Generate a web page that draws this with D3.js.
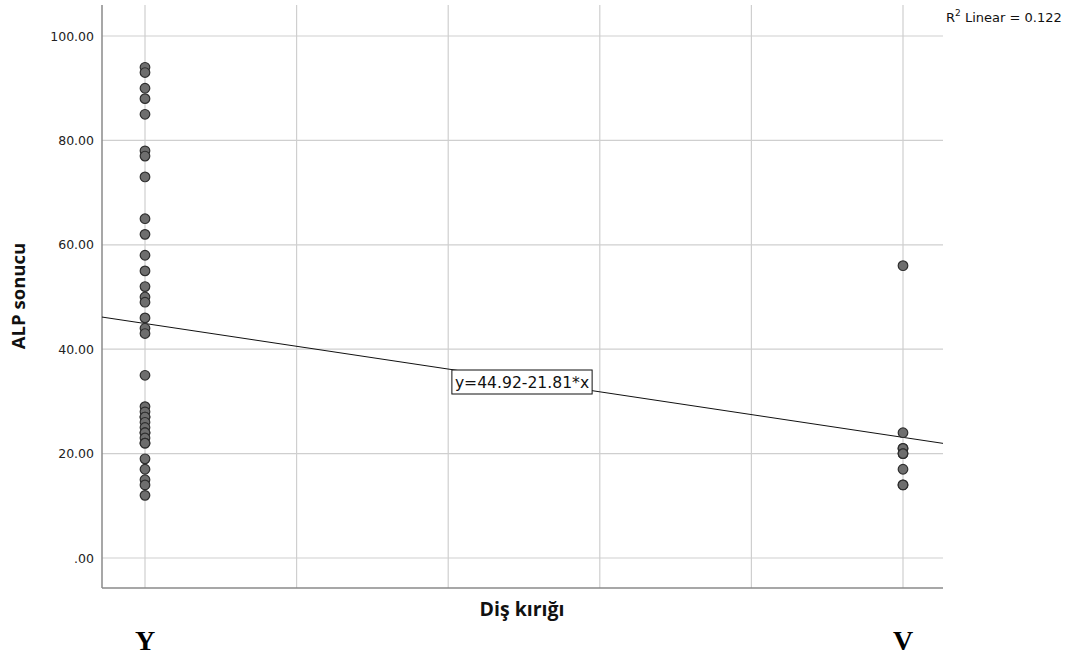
<!DOCTYPE html>
<html>
<head>
<meta charset="utf-8">
<script src="https://cdn.jsdelivr.net/npm/d3@7"></script>
<style>
  html, body { margin: 0; padding: 0; background: #fff; }
  svg { display: block; }
</style>
</head>
<body>
<svg id="chart" width="1074" height="657"></svg>
<script>
// ALP sonucu by group (Diş kırığı coded 0 = Y, 1 = V)
const groupY = [94, 93, 90, 88, 85, 78, 77, 73, 65, 62, 58, 55, 52, 50, 49, 46, 44, 43, 35,
                29, 28, 27, 27, 26, 25, 24, 24, 23, 22, 22, 19, 17, 15, 14, 12];
const groupV = [56, 24, 21, 21, 20, 20, 17, 14, 14];
const yTicks = [0, 20, 40, 60, 80, 100];
const xGrid = [0, 0.2, 0.4, 0.6, 0.8, 1];
const intercept = 44.92;
const slope = -21.81;
const r2 = 0.122;
const groupLabels = ["Y", "V"];

const svg = d3.select("#chart");
const plotLeft = 102, plotRight = 943, plotTop = 5, plotBottom = 588;
const uiFont = "DejaVu Sans, Verdana, sans-serif";

const x = d3.scaleLinear().domain([0, 1]).range([145, 903]);
const y = d3.scaleLinear().domain([0, 100]).range([558, 36]);

const xMin = x.invert(plotLeft), xMax = x.invert(plotRight);

// grid
const grid = svg.append("g");
grid.selectAll("line.h").data(yTicks).join("line")
  .attr("x1", plotLeft).attr("x2", plotRight)
  .attr("y1", d => y(d)).attr("y2", d => y(d))
  .attr("stroke", "#cfcfcf").attr("stroke-width", 1.2);
grid.selectAll("line.v").data(xGrid).join("line")
  .attr("x1", d => x(d)).attr("x2", d => x(d))
  .attr("y1", plotTop).attr("y2", plotBottom)
  .attr("stroke", "#cfcfcf").attr("stroke-width", 1.2);

// y axis
const yAxis = d3.axisLeft(y).tickValues(yTicks).tickSize(0).tickPadding(8)
  .tickFormat(d => d === 0 ? ".00" : d3.format(".2f")(d));
const gy = svg.append("g").attr("transform", `translate(${plotLeft},0)`).call(yAxis);
gy.select(".domain").remove();
gy.selectAll("text").attr("font-family", uiFont)
  .attr("font-size", 12.5).attr("fill", "#222");

// axis lines
svg.append("line").attr("x1", plotLeft).attr("x2", plotLeft).attr("y1", plotTop).attr("y2", plotBottom)
  .attr("stroke", "#8a8a8a").attr("stroke-width", 1.5);
svg.append("line").attr("x1", plotLeft).attr("x2", plotRight).attr("y1", plotBottom).attr("y2", plotBottom)
  .attr("stroke", "#8a8a8a").attr("stroke-width", 1.5);

// fit line
svg.append("line")
  .attr("x1", x(xMin)).attr("y1", y(intercept + slope * xMin))
  .attr("x2", x(xMax)).attr("y2", y(intercept + slope * xMax))
  .attr("stroke", "#111").attr("stroke-width", 1);

// points
const pts = groupY.map(v => ({ g: 0, v })).concat(groupV.map(v => ({ g: 1, v })));
svg.append("g").selectAll("circle").data(pts).join("circle")
  .attr("cx", d => x(d.g)).attr("cy", d => y(d.v)).attr("r", 4.8)
  .attr("fill", "#6e6e6e").attr("stroke", "#2e2e2e").attr("stroke-width", 1.2);

// equation label
const eqX = 522, eqY = 382;
const eq = svg.append("g");
const eqText = eq.append("text").attr("x", eqX).attr("y", eqY + 5.5)
  .attr("text-anchor", "middle")
  .attr("font-family", uiFont).attr("font-size", 15.6)
  .attr("fill", "#111")
  .text(`y=${intercept.toFixed(2)}-${Math.abs(slope).toFixed(2)}*x`);
const bb = eqText.node().getBBox();
eq.insert("rect", "text")
  .attr("x", bb.x - 3).attr("y", eqY - 12).attr("width", bb.width + 6).attr("height", 24)
  .attr("fill", "#fff").attr("stroke", "#111").attr("stroke-width", 1);

// R² label
const rt = svg.append("text").attr("x", 946).attr("y", 22)
  .attr("font-family", uiFont).attr("font-size", 13).attr("fill", "#111");
rt.append("tspan").text("R");
rt.append("tspan").attr("dy", -6).attr("font-size", 9).text("2");
rt.append("tspan").attr("dy", 6).text(` Linear = ${r2.toFixed(3)}`);

// axis titles
svg.append("text").attr("transform", "translate(25,296) rotate(-90)")
  .attr("text-anchor", "middle")
  .attr("font-family", "Open Sans, sans-serif").attr("font-weight", "bold").attr("font-size", 18.5)
  .attr("fill", "#111").text("ALP sonucu");
svg.append("text").attr("x", 522).attr("y", 616)
  .attr("text-anchor", "middle")
  .attr("font-family", "Open Sans, sans-serif").attr("font-weight", "bold").attr("font-size", 19.5)
  .attr("fill", "#111").text("Diş kırığı");

// group labels
svg.append("g").selectAll("text").data(groupLabels).join("text")
  .attr("x", (d, i) => x(i)).attr("y", 650)
  .attr("text-anchor", "middle")
  .attr("font-family", "Liberation Serif, Times New Roman, serif").attr("font-weight", "bold")
  .attr("font-size", 28).attr("fill", "#000").text(d => d);
</script>
</body>
</html>
